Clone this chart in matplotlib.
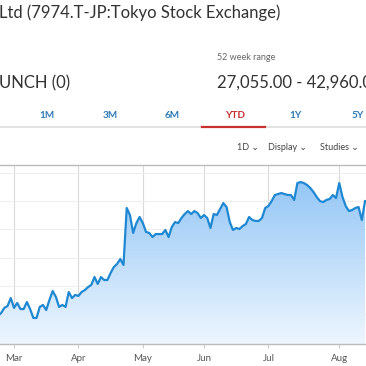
import numpy as np
import matplotlib.pyplot as plt
from matplotlib.colors import LinearSegmentedColormap
from matplotlib.lines import Line2D

# daily closes (trading days), late Feb -> mid Aug
feb = [31860, 32070, 32430, 32570, 33130]
mar = [32430, 32780, 32350, 32350, 32850, 32350, 31720, 31720, 32500, 32640,
       32280, 32990, 33630, 33210, 32500, 32640, 32500, 33560, 33130, 33350]
apr = [33280, 33560, 33700, 33910, 34060, 34620, 34130, 34620, 34410, 34410,
       34910, 35330, 35550, 35900, 35480, 39520, 39020, 37750, 38450, 38880]
may = [38450, 37820, 37750, 37460, 37670, 37670, 37670, 37960, 37460, 38170,
       38520, 38450, 38810, 39090, 39300, 39090, 39300, 39160, 38810]
jun = [39020, 38810, 38100, 39090, 39020, 39450, 39870, 39590, 38520, 37960,
       38100, 38030, 38240, 38380, 38880, 38670, 38600, 38600, 38810, 39520]
jul = [39660, 40010, 40440, 40510, 40580, 40510, 40440, 40440, 40090, 41290,
       41360, 41290, 41150, 40940, 40650, 40300, 40010, 39940, 40090, 40160,
       40440, 40230]
aug = [41290, 40300, 39660, 39300, 39380, 39520, 39590, 38670, 40010]

prices = feb + mar + apr + may + jun + jul + aug
month_labels = ['Mar', 'Apr', 'May', 'Jun', 'Jul', 'Aug']
month_start = [5, 25, 45, 64, 84, 106]
y_grid = [32000, 34000, 36000, 38000, 40000, 42000]

tabs = ['1M', '3M', '6M', 'YTD', '1Y', '5Y']
tab_x = [47, 110, 172, 235, 296, 358]

W = H = 366
fig = plt.figure(figsize=(3.66, 3.66), dpi=100)
fig.patch.set_facecolor('white')
fam = ['Lato', 'DejaVu Sans']


def fx(px):
    return px / W


def fy(py):
    return 1 - py / H


# header texts
fig.text(fx(-1), fy(13), 'Ltd (7974.T-JP:Tokyo Stock Exchange)', fontsize=12,
         color='#333333', family=fam, va='center', ha='left')
fig.text(fx(217), fy(58), '52 week range', fontsize=6.5, color='#666666',
         family=fam, va='center', ha='left')
fig.text(fx(-1), fy(83), 'UNCH (0)', fontsize=12, color='#333333',
         family=fam, va='center', ha='left')
fig.text(fx(217), fy(83), '27,055.00 - 42,960.00', fontsize=12,
         color='#333333', family=fam, va='center', ha='left')

for t, x in zip(tabs, tab_x):
    c = '#c8302e' if t == 'YTD' else '#2c7bb6'
    fig.text(fx(x), fy(116), t, fontsize=7.2, color=c, family=fam,
             fontweight='bold', va='center', ha='center')

fig.add_artist(Line2D([0, 1], [fy(127), fy(127)], color='#dddddd', lw=1.2))
fig.add_artist(Line2D([fx(202), fx(265)], [fy(127), fy(127)],
                      color='#c8302e', lw=1.6))

fig.text(fx(237), fy(147), '1D \u2304', fontsize=6.5, color='#444444',
         family=fam, va='center', ha='left')
fig.text(fx(268), fy(147), 'Display \u2304', fontsize=6.5, color='#444444',
         family=fam, va='center', ha='left')
fig.text(fx(320), fy(147), 'Studies \u2304', fontsize=6.5, color='#444444',
         family=fam, va='center', ha='left')

# chart
ax = fig.add_axes([0, fy(344), 1, (344 - 165) / H])
x = np.arange(len(prices))
ymin, ymax = 29870, 42570
xmin, xmax = 0.65, 114.3

grad = np.linspace(0, 1, 256).reshape(-1, 1)
cmap = LinearSegmentedColormap.from_list('g', ['#eef6fe', '#8cc2f5'])
im = ax.imshow(grad, extent=[xmin, xmax, ymin, ymax], origin='lower',
               aspect='auto', cmap=cmap, zorder=1)
poly = ax.fill_between(x, prices, ymin, color='none', lw=0)
im.set_clip_path(poly.get_paths()[0], transform=ax.transData)

ax.plot(x, prices, color='#1f88d2', lw=1.6, zorder=3)

ax.set_xlim(xmin, xmax)
ax.set_ylim(ymin, ymax)
ax.set_xticks(month_start)
ax.set_xticklabels(month_labels, fontsize=7, color='#555555', family=fam)
ax.set_yticks(y_grid)
ax.set_yticklabels([])
ax.tick_params(axis='y', length=0)
ax.tick_params(axis='x', length=3, color='#cccccc', pad=4)
ax.grid(axis='x', color='#d9d9d9', lw=0.8, zorder=0)
ax.grid(axis='y', color='#eeeeee', lw=0.8, zorder=0)
ax.set_axisbelow(True)
for s in ['left', 'right']:
    ax.spines[s].set_visible(False)
ax.spines['top'].set_color('#bbbbbb')
ax.spines['bottom'].set_color('#bbbbbb')
ax.spines['top'].set_linewidth(1.0)
ax.spines['bottom'].set_linewidth(1.0)

plt.savefig('out.png', dpi=100)
